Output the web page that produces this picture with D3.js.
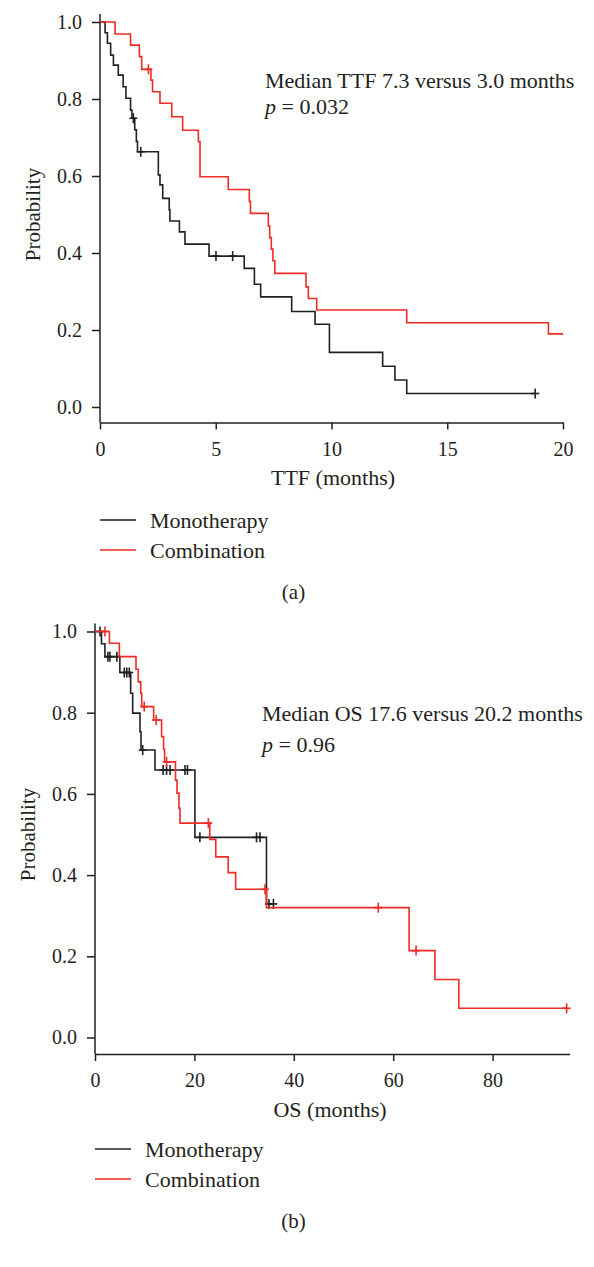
<!DOCTYPE html>
<html><head><meta charset="utf-8">
<script src="https://cdn.jsdelivr.net/npm/d3@7"></script>
<style>
body{margin:0;background:#fff}
svg{display:block;background:#fff}
text{font-family:"Liberation Serif","Times New Roman",serif;fill:#231f20}
</style>
</head><body>
<svg id="chart" width="594" height="1267"></svg>
<script>
// ---------- DATA ----------
const yTicks = [0, 0.2, 0.4, 0.6, 0.8, 1.0];
const seriesNames = ["Monotherapy", "Combination"];

// (a) Time to treatment failure
const ttfXTicks = [0, 5, 10, 15, 20];
const ttfMonoTimes = [0, 0.22, 0.32, 0.46, 0.58, 0.79, 1.0, 1.12, 1.32, 1.38, 1.5, 1.57, 1.62, 2.52, 2.59, 2.71, 2.99, 3.02, 3.43, 3.67, 4.71, 6.23, 6.67, 6.94, 8.28, 9.29, 9.91, 12.21, 12.74, 13.25];
const ttfMonoSurv  = [1.0, 0.972, 0.945, 0.914, 0.888, 0.862, 0.832, 0.802, 0.771, 0.75, 0.72, 0.69, 0.663, 0.603, 0.577, 0.542, 0.512, 0.483, 0.455, 0.423, 0.392, 0.360, 0.319, 0.286, 0.248, 0.215, 0.142, 0.106, 0.070, 0.035];
const ttfMonoEnd = 18.8;
const ttfMonoCensor = [1.44, 1.76, 5.01, 5.73, 18.8];

const ttfCombTimes = [0, 0.65, 1.32, 1.70, 1.80, 2.2, 2.27, 2.59, 3.1, 3.57, 4.25, 4.32, 5.54, 6.45, 6.5, 7.27, 7.33, 7.4, 7.47, 7.55, 8.9, 9.0, 9.36, 13.25, 19.37];
const ttfCombSurv  = [1.0, 0.969, 0.940, 0.910, 0.877, 0.849, 0.819, 0.789, 0.754, 0.719, 0.689, 0.598, 0.565, 0.534, 0.503, 0.47, 0.44, 0.41, 0.38, 0.347, 0.312, 0.282, 0.252, 0.219, 0.19];
const ttfCombEnd = 20;
const ttfCombCensor = [2.09];

// (b) Overall survival
const osXTicks = [0, 20, 40, 60, 80];
const osMonoTimes = [0, 1.3, 2.0, 5.0, 7.18, 7.58, 9.05, 9.26, 12.07, 20.1, 34.5];
const osMonoSurv  = [1.0, 0.97, 0.938, 0.899, 0.848, 0.799, 0.753, 0.708, 0.659, 0.493, 0.329];
const osMonoEnd = 35.9;
const osMonoCensor = [1.0, 2.6, 3.0, 4.4, 5.9, 6.4, 6.9, 9.6, 13.7, 14.4, 15.1, 18.1, 18.6, 21.1, 32.5, 33.2, 35.0, 35.9];

const osCombTimes = [0, 2.9, 4.9, 8.25, 8.7, 9.2, 9.4, 11.8, 13.4, 13.8, 14.0, 16.2, 16.5, 16.9, 17.1, 23.1, 24.3, 26.8, 28.3, 34.5, 63.2, 68.4, 73.2];
const osCombSurv  = [1.0, 0.971, 0.938, 0.907, 0.876, 0.848, 0.815, 0.782, 0.741, 0.71, 0.679, 0.634, 0.602, 0.565, 0.528, 0.488, 0.445, 0.406, 0.365, 0.320, 0.214, 0.143, 0.072];
const osCombEnd = 94.9;
const osCombCensor = [2.0, 9.9, 12.3, 14.4, 22.8, 34.2, 57.0, 64.6, 94.9];

// ---------- DRAW ----------
const BLACK = "#231f20", RED = "#ee2b24";
const svg = d3.select("#chart");

function panel(o) {
  const x = d3.scaleLinear().domain([0, o.xMax]).range([o.left, o.right]);
  const y = d3.scaleLinear().domain([0, 1]).range([o.y0, o.y1]);
  const g = svg.append("g");

  // y axis
  const ya = g.append("g").attr("transform", `translate(${o.left},0)`)
    .call(d3.axisLeft(y).tickValues(yTicks).tickFormat(d3.format(".1f")).tickSize(8).tickPadding(10).tickSizeOuter(0));
  ya.select(".domain").remove();
  g.append("line").attr("x1", o.left).attr("x2", o.left).attr("y1", y(1) - 8).attr("y2", o.axisY)
    .attr("stroke", BLACK).attr("stroke-width", 1.5);
  // x axis
  const xa = g.append("g").attr("transform", `translate(0,${o.axisY})`)
    .call(d3.axisBottom(x).tickValues(o.xTicks).tickSize(7).tickPadding(12).tickSizeOuter(0));
  [ya, xa].forEach(a => {
    a.selectAll(".domain").attr("stroke", BLACK).attr("stroke-width", 1.5);
    a.selectAll(".tick line").attr("stroke", BLACK).attr("stroke-width", 1.5);
    a.selectAll(".tick text").attr("fill", BLACK).style("font-size", "20px")
      .style("font-family", '"Liberation Serif","Times New Roman",serif');
  });

  // curves
  const line = d3.line().x(d => x(d[0])).y(d => y(d[1])).curve(d3.curveStepAfter);
  o.series.forEach(s => {
    const pts = s.times.map((t, i) => [t, s.surv[i]]);
    pts.push([s.end, s.surv[s.surv.length - 1]]);
    g.append("path").attr("d", line(pts)).attr("fill", "none")
      .attr("stroke", s.color).attr("stroke-width", 1.6);
    const level = t => { let v = 1; s.times.forEach((tt, i) => { if (tt <= t) v = s.surv[i]; }); return v; };
    s.censor.forEach(t => {
      const cx = x(t), cy = y(level(t));
      g.append("line").attr("x1", cx).attr("x2", cx).attr("y1", cy - 5).attr("y2", cy + 5)
        .attr("stroke", s.color).attr("stroke-width", 1.6);
      g.append("line").attr("x1", cx - 4).attr("x2", cx + 4).attr("y1", cy).attr("y2", cy)
        .attr("stroke", s.color).attr("stroke-width", 1.6);
    });
  });

  // texts
  g.append("text").attr("x", o.titleX).attr("y", o.titleY).attr("text-anchor", "middle")
    .style("font-size", "22px").text(o.xTitle);
  g.append("text").attr("transform", `translate(${o.probX},${(y(0) + y(1)) / 2}) rotate(-90)`)
    .attr("text-anchor", "middle").style("font-size", "21px").text("Probability");
  const ann = g.append("text").attr("x", o.annX).attr("y", o.annY).style("font-size", "22px").text(o.ann);
  const pt = g.append("text").attr("x", o.annX).attr("y", o.annY2).style("font-size", "22px");
  pt.append("tspan").style("font-style", "italic").text("p");
  pt.append("tspan").text(" = " + o.pval);

  // legend
  o.series.forEach((s, i) => {
    const ly = o.legY + i * 30;
    g.append("line").attr("x1", o.left).attr("x2", o.left + 36).attr("y1", ly).attr("y2", ly)
      .attr("stroke", s.color).attr("stroke-width", 1.5);
    g.append("text").attr("x", o.left + 50).attr("y", ly + 8).style("font-size", "22px").text(s.name);
  });
  g.append("text").attr("x", 293.5).attr("y", o.labY).attr("text-anchor", "middle")
    .style("font-size", "21px").text(o.label);
}

panel({
  xMax: 20, left: 100, right: 563, y0: 407, y1: 22, axisY: 422.5, xTicks: ttfXTicks,
  xTitle: "TTF (months)", titleX: 333, titleY: 485, probX: 40,
  ann: "Median TTF 7.3 versus 3.0 months", pval: "0.032", annX: 265, annY: 88, annY2: 114,
  legY: 520, label: "(a)", labY: 599,
  series: [
    { name: seriesNames[0], color: BLACK, times: ttfMonoTimes, surv: ttfMonoSurv, end: ttfMonoEnd, censor: ttfMonoCensor },
    { name: seriesNames[1], color: RED, times: ttfCombTimes, surv: ttfCombSurv, end: ttfCombEnd, censor: ttfCombCensor }
  ]
});

panel({
  xMax: 95.5, left: 95, right: 95 + 95.5 * 4.97, y0: 1037.5, y1: 631.5, axisY: 1054, xTicks: osXTicks,
  xTitle: "OS (months)", titleX: 330, titleY: 1117, probX: 35,
  ann: "Median OS 17.6 versus 20.2 months", pval: "0.96", annX: 262, annY: 721, annY2: 752,
  legY: 1149, label: "(b)", labY: 1228,
  series: [
    { name: seriesNames[0], color: BLACK, times: osMonoTimes, surv: osMonoSurv, end: osMonoEnd, censor: osMonoCensor },
    { name: seriesNames[1], color: RED, times: osCombTimes, surv: osCombSurv, end: osCombEnd, censor: osCombCensor }
  ]
});
</script>
</body></html>
